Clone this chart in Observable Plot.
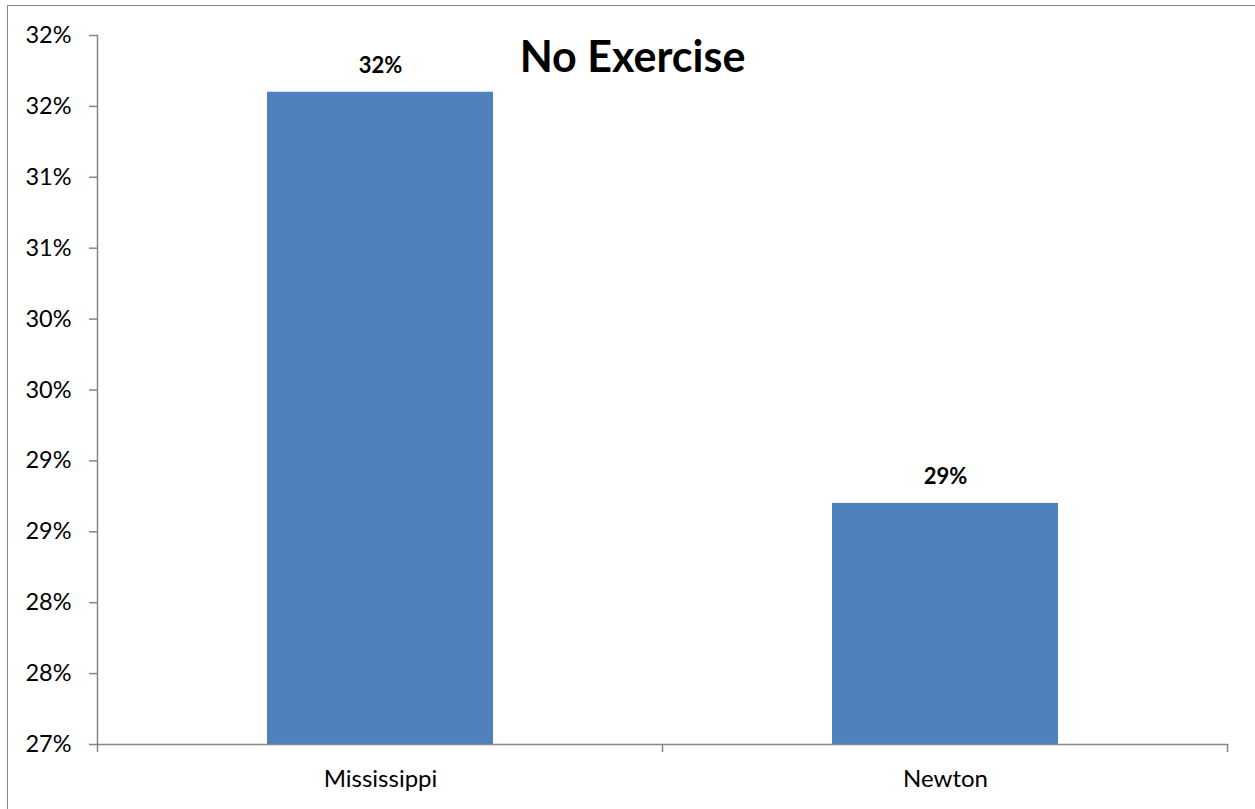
<!DOCTYPE html>
<html>
<head>
<meta charset="utf-8">
<script src="https://cdn.jsdelivr.net/npm/d3@7"></script>
<script src="https://cdn.jsdelivr.net/npm/@observablehq/plot@0.6"></script>
<style>
  html, body { margin: 0; padding: 0; background: #fff; }
  #wrap { position: relative; width: 1255px; height: 809px; overflow: hidden; font-family: Lato, "Open Sans", sans-serif; }
  #border { position: absolute; left: 7px; top: 5px; width: 1300px; height: 900px; border-left: 1.5px solid #868686; border-top: 1.5px solid #868686; box-sizing: border-box; pointer-events: none; }
  #title { position: absolute; left: 5px; width: 1255px; top: 31px; text-align: center; font-weight: 700; font-size: 43px; line-height: 50px; color: #000; }
  #chart { position: absolute; left: 0; top: 0; }
</style>
</head>
<body>
<div id="wrap">
  <div id="chart"></div>
  <div id="border"></div>
  <div id="title">No Exercise</div>
</div>
<script>
const categories = ["Mississippi", "Newton"];
const values = [31.6, 28.7];
const yTicks = [27, 27.5, 28, 28.5, 29, 29.5, 30, 30.5, 31, 31.5, 32];
const yDomain = [27, 32];

const data = categories.map((c, i) => ({category: c, value: values[i]}));
const pct = d => Math.round(d) + "%";
const axisColor = "#868686";

// tick marks at the category boundaries, drawn from the band scale
const boundaryTicks = (index, scales, values, dimensions) => {
  const x = scales.x;
  const step = x.step();
  const y0 = dimensions.height - dimensions.marginBottom;
  const g = d3.create("svg:g").attr("stroke", axisColor).attr("stroke-width", 1.5);
  const xs = categories.map(c => x(c) - (step - x.bandwidth()) / 2);
  xs.push(x(categories[categories.length - 1]) + x.bandwidth() + (step - x.bandwidth()) / 2);
  for (const px of xs) {
    g.append("line").attr("x1", px).attr("x2", px).attr("y1", y0).attr("y2", y0 + 8);
  }
  return g.node();
};

const chart = Plot.plot({
  width: 1255,
  height: 809,
  marginLeft: 97,
  marginRight: 28,
  marginTop: 35,
  marginBottom: 65,
  style: {fontFamily: "Lato, 'Open Sans', sans-serif", background: "transparent", color: "#000"},
  x: {domain: categories, paddingInner: 0.6, paddingOuter: 0.3, label: null},
  y: {domain: yDomain, label: null},
  marks: [
    Plot.barY(data, {x: "category", y1: yDomain[0], y2: "value", fill: "#4F81BD"}),
    Plot.frame({anchor: "left", stroke: axisColor, strokeWidth: 1.5}),
    Plot.frame({anchor: "bottom", stroke: axisColor, strokeWidth: 1.5}),
    Plot.axisY({ticks: yTicks, tickFormat: pct, tickSize: 8, tickPadding: 18, stroke: axisColor, strokeWidth: 1.5, fontSize: 23.5, fill: "#000", label: null}),
    Plot.axisX({tickSize: 0, tickPadding: 25, fontSize: 24, fill: "#000", label: null}),
    boundaryTicks,
    Plot.text(data, {x: "category", y: "value", text: d => pct(d.value), lineAnchor: "bottom", dy: -19, fontSize: 22, fontWeight: "bold", fill: "#000"})
  ]
});
document.getElementById("chart").appendChild(chart);
</script>
</body>
</html>
